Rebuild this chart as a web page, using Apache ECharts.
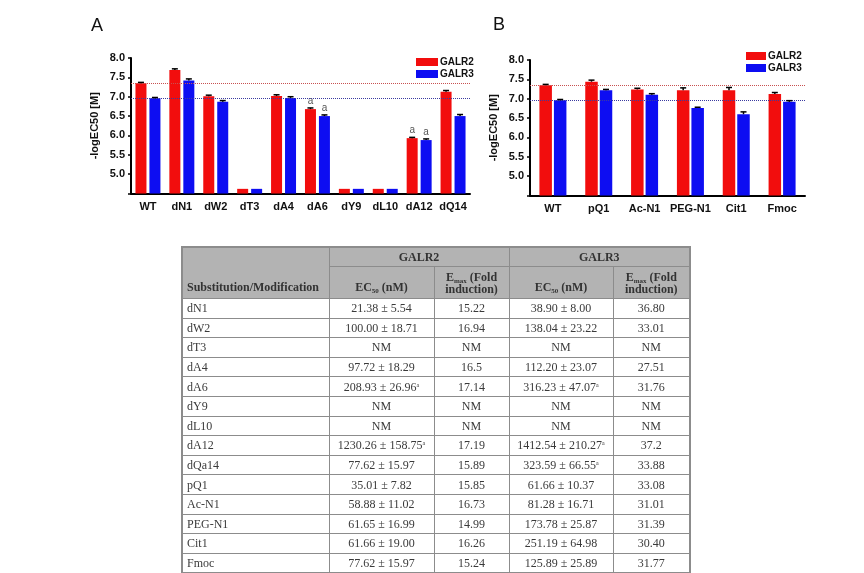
<!DOCTYPE html>
<html>
<head>
<meta charset="utf-8">
<script src="https://cdn.jsdelivr.net/npm/echarts@6/dist/echarts.min.js"></script>
<style>
html,body{margin:0;padding:0;background:#fff;}
#chart{position:absolute;left:0;top:0;width:864px;height:573px;}
#tbl{position:absolute;left:181px;top:246px;border-collapse:collapse;table-layout:fixed;font-family:"Liberation Serif","DejaVu Serif",serif;font-size:12px;color:#3a3a3a;border:2px solid #8c8c8c;}
#tbl td,#tbl th{border:1px solid #8c8c8c;padding:0 2px;height:18px;line-height:12px;white-space:nowrap;}
#tbl th{background:#b3b3b3;font-weight:bold;color:#333;}
#tbl td{text-align:center;}
#tbl td.first{text-align:left;padding-left:4px;}
#tbl sub{font-size:7px;vertical-align:-2px;line-height:0;}
#tbl sup{font-size:6px;vertical-align:4px;line-height:0;}
</style>
</head>
<body>
<div id="chart"></div>
<table id="tbl"></table>
<script>
// ---- Chart A data ----
const catsA = ['WT','dN1','dW2','dT3','dA4','dA6','dY9','dL10','dA12','dQ14'];
const galr2A = [7.35, 7.69, 7.01, 4.62, 7.02, 6.68, 4.62, 4.62, 5.93, 7.13];
const galr3A = [6.96, 7.42, 6.87, 4.62, 6.97, 6.50, 4.62, 4.62, 5.88, 6.50];
const errGalr2A = [0.02, 0.03, 0.03, 0, 0.03, 0.03, 0, 0, 0.02, 0.03];
const errGalr3A = [0.02, 0.04, 0.03, 0, 0.03, 0.03, 0, 0, 0.03, 0.04];
const noteGalr2A = ['', '', '', '', '', 'a', '', '', 'a', ''];
const noteGalr3A = ['', '', '', '', '', 'a', '', '', 'a', ''];
const refGalr2A = 7.36;
const refGalr3A = 6.95;

// ---- Chart B data ----
const catsB = ['WT','pQ1','Ac-N1','PEG-N1','Cit1','Fmoc'];
const galr2B = [7.35, 7.44, 7.24, 7.22, 7.22, 7.12];
const galr3B = [6.96, 7.22, 7.10, 6.76, 6.60, 6.92];
const errGalr2B = [0.02, 0.04, 0.03, 0.06, 0.07, 0.04];
const errGalr3B = [0.02, 0.02, 0.03, 0.02, 0.06, 0.03];
const refGalr2B = 7.34;
const refGalr3B = 6.96;

// ---- Axis settings ----
const yMin = 4.5, yMax = 8.0, yStep = 0.5;

// ---- Table data ----
const tblNames = ['dN1','dW2','dT3','dA4','dA6','dY9','dL10','dA12','dQa14','pQ1','Ac-N1','PEG-N1','Cit1','Fmoc'];
const tblGalr2EC50 = ['21.38 ± 5.54','100.00 ± 18.71','NM','97.72 ± 18.29','208.93 ± 26.96<sup>a</sup>','NM','NM','1230.26 ± 158.75<sup>a</sup>','77.62 ± 15.97','35.01 ± 7.82','58.88 ± 11.02','61.65 ± 16.99','61.66 ± 19.00','77.62 ± 15.97'];
const tblGalr2Emax = ['15.22','16.94','NM','16.5','17.14','NM','NM','17.19','15.89','15.85','16.73','14.99','16.26','15.24'];
const tblGalr3EC50 = ['38.90 ± 8.00','138.04 ± 23.22','NM','112.20 ± 23.07','316.23 ± 47.07<sup>a</sup>','NM','NM','1412.54 ± 210.27<sup>a</sup>','323.59 ± 66.55<sup>a</sup>','61.66 ± 10.37','81.28 ± 16.71','173.78 ± 25.87','251.19 ± 64.98','125.89 ± 25.89'];
const tblGalr3Emax = ['36.80','33.01','NM','27.51','31.76','NM','NM','37.2','33.88','33.08','31.01','31.39','30.40','31.77'];

// Build table
(function(){
  const t = document.getElementById('tbl');
  let h = '<colgroup><col style="width:147px"><col style="width:105px"><col style="width:75px"><col style="width:104px"><col style="width:77px"></colgroup>';
  h += '<tr style="height:19px"><th rowspan="2" style="text-align:left;vertical-align:bottom;padding-bottom:5px;padding-left:4px;">Substitution/Modification</th><th colspan="2">GALR2</th><th colspan="2">GALR3</th></tr>';
  h += '<tr style="height:32px"><th style="vertical-align:bottom;padding-bottom:5px;">EC<sub>50</sub> (nM)</th><th>E<sub>max</sub> (Fold<br>induction)</th><th style="vertical-align:bottom;padding-bottom:5px;">EC<sub>50</sub> (nM)</th><th>E<sub>max</sub> (Fold<br>induction)</th></tr>';
  for (let i = 0; i < tblNames.length; i++) {
    h += '<tr style="height:19.6px"><td class="first">' + tblNames[i] + '</td><td>' + tblGalr2EC50[i] + '</td><td>' + tblGalr2Emax[i] + '</td><td>' + tblGalr3EC50[i] + '</td><td>' + tblGalr3Emax[i] + '</td></tr>';
  }
  t.innerHTML = h;
})();

const RED = '#f20d0d', BLUE = '#0d0df2';
const chart = echarts.init(document.getElementById('chart'), null, {renderer: 'canvas'});

function withNotes(vals, notes) {
  return vals.map((v, i) => notes && notes[i] ? {value: v, label: {show: true, formatter: notes[i]}} : v);
}
function errorSeries(name, xi, yi, vals, errs, off) {
  return {
    type: 'custom', name: name, xAxisIndex: xi, yAxisIndex: yi, silent: true, z: 5,
    data: vals.map((v, i) => [i, v, errs[i]]),
    renderItem: function(params, api) {
      const e = api.value(2);
      if (!e) return null;
      const p0 = api.coord([api.value(0), api.value(1)]);
      const p1 = api.coord([api.value(0), api.value(1) + e]);
      const x = p0[0] + off;
      return {type: 'group', children: [
        {type: 'line', shape: {x1: x, y1: p0[1], x2: x, y2: p1[1]}, style: {stroke: '#000', lineWidth: 1.5}},
        {type: 'line', shape: {x1: x - 3, y1: p1[1], x2: x + 3, y2: p1[1]}, style: {stroke: '#000', lineWidth: 1.5}}
      ]};
    }
  };
}
const axisFont = {fontFamily: 'Liberation Sans, Arial, sans-serif', fontWeight: 'bold', fontSize: 11, color: '#111'};
function yAxisDef(gi) {
  return {
    type: 'value', gridIndex: gi, min: yMin, max: yMax, interval: yStep,
    name: '-logEC50 [M]', nameLocation: 'middle', nameGap: 31,
    nameTextStyle: Object.assign({}, axisFont, {fontSize: 11}),
    axisLine: {show: true, lineStyle: {color: '#000', width: 2}},
    axisTick: {show: true, length: 3, lineStyle: {color: '#000', width: 1.5}},
    axisLabel: Object.assign({}, axisFont, {margin: 6, formatter: v => v < yMin + 0.25 ? '' : v.toFixed(1)}),
    splitLine: {show: false}
  };
}
function xAxisDef(gi, cats) {
  return {
    type: 'category', gridIndex: gi, data: cats,
    axisLine: {show: true, lineStyle: {color: '#000', width: 2}},
    axisTick: {show: false},
    axisLabel: Object.assign({}, axisFont, {margin: 8, interval: 0})
  };
}
function refLine(val, color) {
  return {symbol: 'none', silent: true, label: {show: false},
    lineStyle: {type: 'dotted', color: color, width: 1},
    data: [{yAxis: val}]};
}
const noteLabel = {show: false, position: 'top', distance: 3, color: '#555', fontSize: 10, fontFamily: 'Liberation Sans, Arial, sans-serif'};

const option = {
  animation: false,
  graphic: [
    {type: 'text', left: 91, top: 17, style: {text: 'A', font: '18px Liberation Sans, Arial, sans-serif', fill: '#111'}},
    {type: 'text', left: 493, top: 16, style: {text: 'B', font: '18px Liberation Sans, Arial, sans-serif', fill: '#111'}}
  ],
  legend: [
    {data: ['GALR2','GALR3'], orient: 'vertical', left: 411, top: 52, itemWidth: 22, itemHeight: 8, itemGap: 2, icon: 'rect',
     selectedMode: false, textStyle: Object.assign({}, axisFont, {fontSize: 10, padding: [0,0,0,-3]})},
    {data: ['GALR2','GALR3'], orient: 'vertical', left: 741, top: 46, itemWidth: 20, itemHeight: 8, itemGap: 2, icon: 'rect',
     selectedMode: false, textStyle: Object.assign({}, axisFont, {fontSize: 10, padding: [0,0,0,-3]})}
  ],
  grid: [
    {left: 131, top: 58, width: 339, height: 135.5},
    {left: 530, top: 60, width: 275, height: 135.5}
  ],
  xAxis: [xAxisDef(0, catsA), xAxisDef(1, catsB)],
  yAxis: [yAxisDef(0), yAxisDef(1)],
  series: [
    {type: 'bar', name: 'GALR2', xAxisIndex: 0, yAxisIndex: 0, barWidth: 11, barGap: '27%', itemStyle: {color: RED},
     label: noteLabel, data: withNotes(galr2A, noteGalr2A), markLine: refLine(refGalr2A, '#c85050')},
    {type: 'bar', name: 'GALR3', xAxisIndex: 0, yAxisIndex: 0, barWidth: 11, barGap: '27%', itemStyle: {color: BLUE},
     label: noteLabel, data: withNotes(galr3A, noteGalr3A), markLine: refLine(refGalr3A, '#3a3aa0')},
    {type: 'bar', name: 'GALR2', xAxisIndex: 1, yAxisIndex: 1, barWidth: 12.5, barGap: '16%', itemStyle: {color: RED},
     data: galr2B, markLine: refLine(refGalr2B, '#c85050')},
    {type: 'bar', name: 'GALR3', xAxisIndex: 1, yAxisIndex: 1, barWidth: 12.5, barGap: '16%', itemStyle: {color: BLUE},
     data: galr3B, markLine: refLine(refGalr3B, '#3a3aa0')},
    errorSeries('errA2', 0, 0, galr2A, errGalr2A, -7),
    errorSeries('errA3', 0, 0, galr3A, errGalr3A, 7),
    errorSeries('errB2', 1, 1, galr2B, errGalr2B, -7.25),
    errorSeries('errB3', 1, 1, galr3B, errGalr3B, 7.25)
  ]
};
chart.setOption(option);
</script>
</body>
</html>
